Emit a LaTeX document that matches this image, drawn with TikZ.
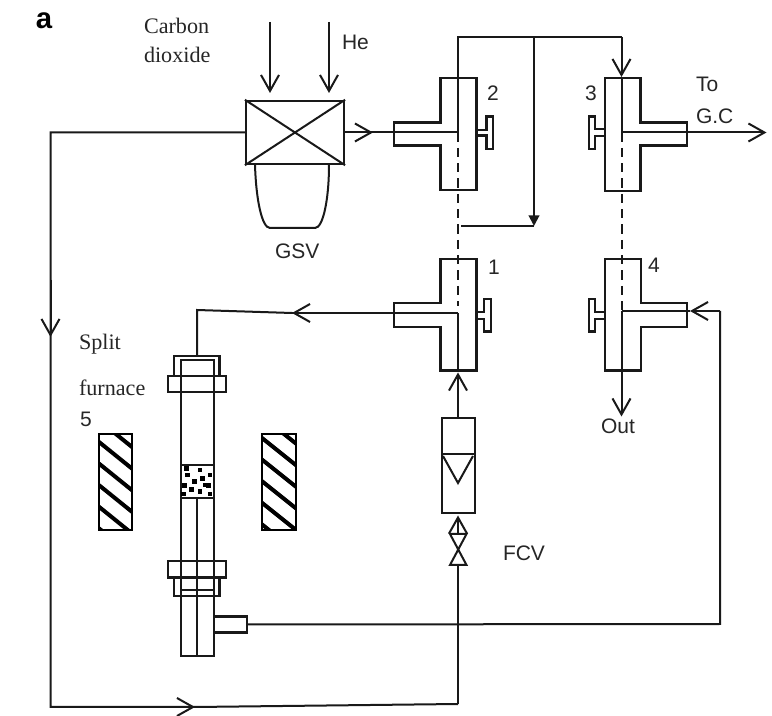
\documentclass[tikz,border=0pt]{standalone}
\usepackage{fontspec}
\setmainfont{Liberation Sans}
\newfontfamily\timesfam{Liberation Serif}
\usetikzlibrary{arrows.meta}
\tikzset{
  flow/.style={line width=1.5pt,draw=black!90},
  thick box/.style={line width=1.6pt,draw=black!90},
  barb/.style={-{Straight Barb[length=12pt,width=13.5pt,line width=1.5pt]}},
  solidhead/.style={-{Triangle[length=8pt,width=8pt]}},
  pipe dash/.style={flow,dash pattern=on 7pt off 4.5pt},
  lab/.style={anchor=base west,inner sep=0pt,outer sep=0pt,font=\fontsize{15.75}{18}\selectfont,text=black!85},
  serif lab/.style={anchor=base west,inner sep=0pt,outer sep=0pt,font=\timesfam\fontsize{16.6}{19}\selectfont,text=black!85},
  hatchbox/.style={line width=1.7pt,draw=black},
}
\newcommand{\hatchfurn}[3]{% x-left, x-right, y of a stripe at the left edge
  \begin{scope}
    \clip (#1,434) rectangle (#2,530);
    \foreach \yy in {-3,...,5}{
      \draw[line width=3pt,black] (#1-3,{#3+\yy*21.6-2.4}) -- (#2+3,{#3+\yy*21.6+29.6});
    }
  \end{scope}
  \draw[hatchbox] (#1,434) rectangle (#2,530);
}
\begin{document}
\begin{tikzpicture}[x=0.75pt,y=-0.75pt]
\useasboundingbox (0,0) rectangle (772,716);
\fill[white] (0,0) rectangle (772,716);

% named points
\coordinate (he1) at (270,22);   \coordinate (he1e) at (270,93);
\coordinate (he2) at (329,22);   \coordinate (he2e) at (329,93);
\coordinate (gsvL) at (246,132.5); \coordinate (gsvR) at (344,132.5);
\coordinate (c2) at (458,132.5); \coordinate (c3) at (621.5,132.5);
\coordinate (c1) at (458,313);   \coordinate (c4) at (621.5,311.5);
\coordinate (top2) at (458,37);  \coordinate (branch) at (534,37);
\coordinate (top3) at (621.5,37); \coordinate (t3in) at (621.5,77);
\coordinate (brEnd) at (534,226); \coordinate (brIn) at (461,226);
\coordinate (leftTop) at (50.5,132.5); \coordinate (leftBot) at (50.5,707);
\coordinate (botA) at (195,707);
\coordinate (botT) at (458,704);

% GSV
\node[thick box,draw,minimum width=73.5pt,minimum height=47.5pt,inner sep=0pt] (gsv) at (295,132.5) {};
\draw[flow] (gsv.north west) -- (gsv.south east) (gsv.north east) -- (gsv.south west);
\draw[flow] (255,164.5) .. controls (256,200) and (262,228) .. (270,228) -- (315,228) .. controls (323,228) and (329,200) .. (329,164.5);
\draw[flow,barb] (he1) -- (he1e);
\draw[flow,barb] (he2) -- (he2e);

% tees
\draw[thick box] (440.5,78) -- (476.5,78) -- (476.5,190) -- (440.5,190) -- (440.5,145.5) -- (394,145.5) -- (394,122.5) -- (440.5,122.5) -- cycle;
\draw[thick box] (440.5,259) -- (476.5,259) -- (476.5,370.5) -- (440.5,370.5) -- (440.5,327) -- (394,327) -- (394,303) -- (440.5,303) -- cycle;
\draw[thick box] (605,78) -- (640.5,78) -- (640.5,122.5) -- (687,122.5) -- (687,145.5) -- (640.5,145.5) -- (640.5,191) -- (605,191) -- cycle;
\draw[thick box] (605,259) -- (641,259) -- (641,303) -- (687,303) -- (687,327) -- (641,327) -- (641,370.5) -- (605,370.5) -- cycle;

% handles
\draw[thick box] (476.5,130) -- (486.5,130) -- (486.5,116.5) -- (493,116.5) -- (493,149) -- (486.5,149) -- (486.5,135.5) -- (476.5,135.5);
\draw[thick box] (476.5,312) -- (484,312) -- (484,299) -- (491,299) -- (491,331.5) -- (484,331.5) -- (484,319) -- (476.5,319);
\draw[thick box] (605,129) -- (595,129) -- (595,116.5) -- (589,116.5) -- (589,149) -- (595,149) -- (595,136) -- (605,136);
\draw[thick box] (605,312) -- (595,312) -- (595,299) -- (589,299) -- (589,331.5) -- (595,331.5) -- (595,319) -- (605,319);

% upper pipework
\draw[flow] (gsvR) -- (c2) (c2) -- (top2) -- (top3);
\draw[flow,barb] (gsvR) -- (373,132.5);
\draw[flow,barb] (top3) -- (t3in);
\draw[flow,solidhead] (branch) -- (brEnd);
\draw[flow] (brEnd) -- (brIn);
\draw[flow] (c3) -- (t3in);
\draw[flow,barb] (c3) -- (766.5,132.5);

% dashed links
\draw[pipe dash] (c2) -- (458,306);
\draw[pipe dash] (c3) -- (c4);

% lower tees
\draw[flow,barb] (c4) -- (621.5,416.5);
\draw[flow] (c4) -- (690,311.5);
\draw[flow] (c1) -- (458,372);
\draw[flow] (c1) -- (292,313);

% rotameter and valve
\node[thick box,draw,minimum width=24.75pt,minimum height=71.25pt,inner sep=0pt] (rota) at (458.5,465.5) {};
\draw[flow,barb] (458,418) -- (458,372.5);
\draw[flow] (441,454.5) -- (476,454.5);
\draw[flow] (443,456) -- (458,483) -- (473,456);
\coordinate (fcvT) at (458,534); \coordinate (fcvB) at (458,565);
\draw[flow] (450,534) -- (466.5,534) -- (450,565) -- (466.5,565) -- cycle;
\draw[flow,barb] (fcvT) -- (458,515.5);
\draw[flow] (fcvB) -- (botT);

% return lines
\draw[flow] (gsvL) -- (leftTop) -- (leftBot) -- (botA) -- (botT);
\draw[flow,barb] (50.5,280) -- (50.5,337);
\draw[flow,barb] (140,707) -- (botA);

% column
\coordinate (colIn) at (197,356);
\draw[flow] (292,313) -- (197,310) -- (colIn);
\draw[flow,barb] (394,313) -- (292,313);
\draw[thick box] (180.7,376) -- (180.7,360) -- (214,360) -- (214,376);
\draw[thick box] (174,376) -- (174,356) -- (219.5,356) -- (219.5,376);
\draw[thick box] (168,376) rectangle (226,392);
\draw[thick box] (180.7,376) -- (180.7,656) -- (214,656) -- (214,376);
\draw[thick box] (180.7,465) -- (214,465) (180.7,498) -- (214,498);
\draw[flow] (197,498) -- (197,656);
\draw[thick box] (168,561) rectangle (226,577.5);
\draw[thick box] (174,577.5) -- (174,596) -- (219.5,596) -- (219.5,577.5);
\draw[flow] (180.7,590) -- (214,590);
\node[thick box,draw,minimum width=24.75pt,minimum height=12pt,inner sep=0pt] (side) at (230.5,624.5) {};
\coordinate (retR) at (720,624); \coordinate (retT) at (720,311);
\draw[flow] (side.east) -- (retR) -- (retT);
\draw[flow,barb] (retT) -- (690,311);

% packing
\foreach \px/\py in {187.7/475,200/470,202.3/478.3,184.3/485.7,194.3/481.7,208.3/485.7,191.7/489.3,200/491.7,205/485,186.7/468.3,210/475,183.3/494,210/494}{
  \fill[black] (\px-2.4,\py-2.4) rectangle (\px+2.4,\py+2.4);
}

% furnace
\hatchfurn{98.7}{132.3}{441.7}
\hatchfurn{262}{296}{438}

% labels
\node[lab,font=\bfseries\fontsize{22}{24}\selectfont,text=black] (a) at (36,29) {a};
\node[serif lab] (co1) at (144,34) {Carbon};
\node[serif lab] (co2) at (144,63) {dioxide};
\node[lab] (he) at (342,50) {He};
\node[lab] (gsvl) at (275,259) {GSV};
\node[lab] (n2) at (487,101) {2};
\node[lab] (n1) at (488,275) {1};
\node[lab] (n3) at (585,101) {3};
\node[lab] (n4) at (648,273) {4};
\node[lab] (to) at (696,92) {To};
\node[lab] (gc) at (696,124) {G.C};
\node[lab] (out) at (601,434) {Out};
\node[lab] (fcv) at (503,561) {FCV};
\node[serif lab] (sp) at (79,350) {Split};
\node[serif lab] (fu) at (79,396) {furnace};
\node[lab] (n5) at (80,427) {5};
\end{tikzpicture}
\end{document}
